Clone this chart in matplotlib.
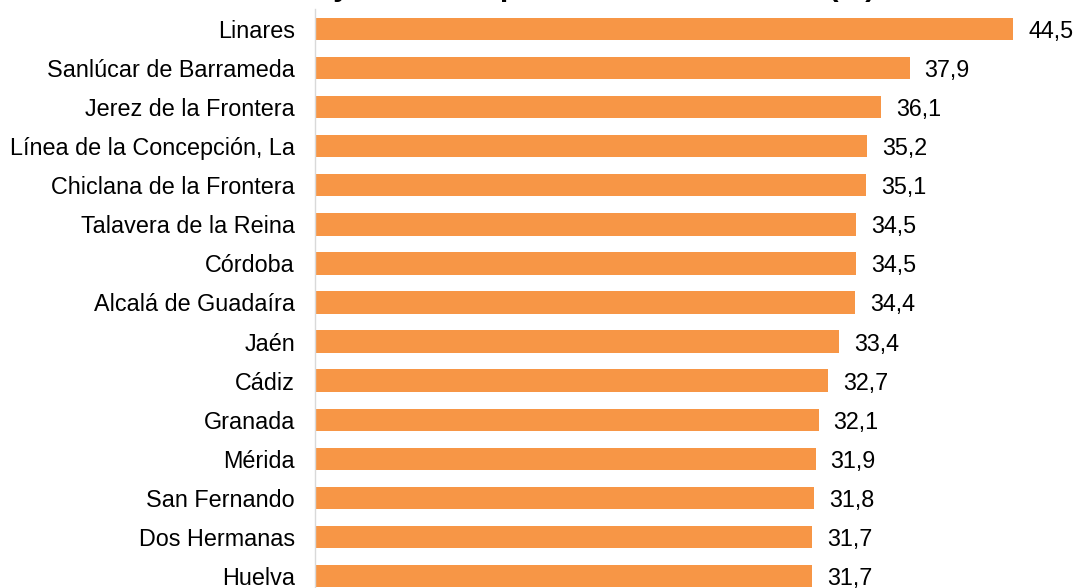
import matplotlib
matplotlib.use("Agg")
import matplotlib.pyplot as plt

plt.rcParams['font.family'] = ['Liberation Sans', 'DejaVu Sans']

cities = ["Linares", "Sanlúcar de Barrameda", "Jerez de la Frontera",
          "Línea de la Concepción, La", "Chiclana de la Frontera",
          "Talavera de la Reina", "Córdoba", "Alcalá de Guadaíra", "Jaén",
          "Cádiz", "Granada", "Mérida", "San Fernando", "Dos Hermanas", "Huelva"]
values = [44.5, 37.9, 36.1, 35.2, 35.1, 34.5, 34.5, 34.4, 33.4,
          32.7, 32.1, 31.9, 31.8, 31.7, 31.7]
title = "Ciudades con mayor tasa de paro estimada en 2011 (%)"

W, H = 1075, 588
fig = plt.figure(figsize=(W / 100, H / 100), dpi=100)
left_px, right_px = 315, 1075
top_px, bottom_px = 9.5, 595.5
ax = fig.add_axes([left_px / W, 1 - bottom_px / H,
                   (right_px - left_px) / W, (bottom_px - top_px) / H])

ypos = list(range(len(cities)))
ax.barh(ypos, values, height=0.57, color="#F79646", zorder=2)
ax.set_ylim(len(cities) - 0.5, -0.5)
ax.set_xlim(0, (right_px - left_px) / 15.69)
ax.set_yticks(ypos)
ax.set_yticklabels(cities, fontsize=16.8, color="#000000")
ax.tick_params(axis='y', length=0, pad=14.4)
ax.set_xticks([])
for s in ["top", "right", "bottom"]:
    ax.spines[s].set_visible(False)
ax.spines["left"].set_color("#D9D9D9")
ax.spines["left"].set_linewidth(1)

for y, v in zip(ypos, values):
    ax.annotate(f"{v:.1f}".replace(".", ","), xy=(v, y), xytext=(15, 0),
                textcoords="offset pixels", va="center_baseline", ha="left",
                fontsize=16.8, color="#000000")

fig.text(85 / W, 1 + 4 / H, title, fontsize=21.6, fontweight="bold",
         ha="left", va="baseline", color="#000000")

fig.savefig("out.png", dpi=100)
